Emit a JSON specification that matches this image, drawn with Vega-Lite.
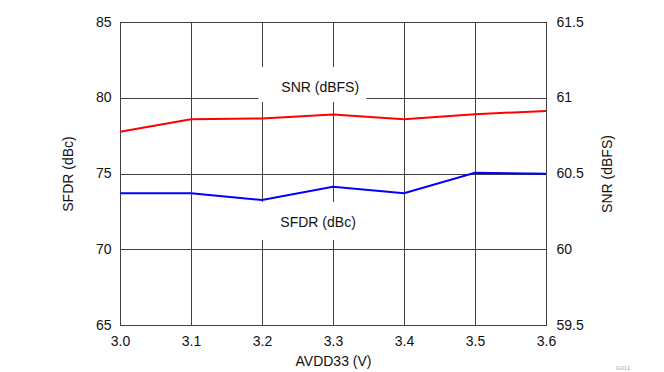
{
  "$schema": "https://vega.github.io/schema/vega-lite/v6.json",
  "width": 426,
  "height": 303,
  "autosize": {"type": "none"},
  "padding": {"left": 120, "top": 22, "right": 118, "bottom": 47},
  "background": "white",
  "title": {"text": "G011", "orient": "bottom", "anchor": "end", "frame": "group", "fontSize": 6, "fontWeight": "normal", "color": "#aaaaaa", "font": "Liberation Sans", "dx": 84, "offset": -3},
  "config": {
    "font": "Liberation Sans",
    "view": {"stroke": "black", "strokeWidth": 1},
    "axis": {
      "labelFont": "Liberation Sans",
      "titleFont": "Liberation Sans",
      "labelFontSize": 14,
      "titleFontSize": 14,
      "titleFontWeight": "normal",
      "labelColor": "#111111",
      "titleColor": "#111111",
      "labelFlush": false,
      "labelOverlap": false,
      "domain": false,
      "ticks": false,
      "gridColor": "#404040",
      "gridOpacity": 1,
      "gridWidth": 1
    }
  },
  "data": {
    "values": [
      {"v": 3.0, "sfdr": 73.70, "snr": 60.776},
      {"v": 3.1, "sfdr": 73.70, "snr": 60.858},
      {"v": 3.2, "sfdr": 73.25, "snr": 60.863},
      {"v": 3.3, "sfdr": 74.13, "snr": 60.889},
      {"v": 3.4, "sfdr": 73.70, "snr": 60.858},
      {"v": 3.5, "sfdr": 75.05, "snr": 60.891},
      {"v": 3.6, "sfdr": 74.98, "snr": 60.913}
    ]
  },
  "layer": [
    {
      "mark": {"type": "line", "color": "#0000ff", "strokeWidth": 2},
      "encoding": {
        "x": {"field": "v", "type": "quantitative", "scale": {"domain": [3.0, 3.6], "nice": false, "zero": false},
          "axis": {"title": "AVDD33 (V)", "values": [3.0, 3.1, 3.2, 3.3, 3.4, 3.5, 3.6], "format": ".1f", "grid": true, "labelPadding": 9, "titlePadding": 6}},
        "y": {"field": "sfdr", "type": "quantitative", "scale": {"domain": [65, 85], "nice": false, "zero": false},
          "axis": {"title": "SFDR (dBc)", "orient": "left", "values": [65, 70, 75, 80, 85], "format": "d", "grid": true, "labelPadding": 9, "titlePadding": 20}}
      }
    },
    {
      "mark": {"type": "line", "color": "#ff0000", "strokeWidth": 2},
      "encoding": {
        "x": {"field": "v", "type": "quantitative", "title": "AVDD33 (V)"},
        "y": {"field": "snr", "type": "quantitative", "scale": {"domain": [59.5, 61.5], "nice": false, "zero": false},
          "axis": {"title": "SNR (dBFS)", "orient": "right", "values": [59.5, 60, 60.5, 61, 61.5], "format": "~g", "grid": false, "labelPadding": 10, "titlePadding": 31, "titleAngle": 270}}
      }
    },
    {
      "data": {"values": [
        {"v": 3.195, "v2": 3.347, "y1": 79.72, "y2": 82.03},
        {"v": 3.195, "v2": 3.347, "y1": 70.61, "y2": 73.12}
      ]},
      "mark": {"type": "rect", "fill": "white", "stroke": null},
      "encoding": {
        "x": {"field": "v", "type": "quantitative", "title": "AVDD33 (V)"},
        "x2": {"field": "v2"},
        "y": {"field": "y1", "type": "quantitative", "scale": {"domain": [65, 85], "nice": false, "zero": false}, "axis": null},
        "y2": {"field": "y2"}
      }
    },
    {
      "data": {"values": [
        {"v": 3.282, "y": 80.62, "label": "SNR (dBFS)"},
        {"v": 3.279, "y": 71.73, "label": "SFDR (dBc)"}
      ]},
      "mark": {"type": "text", "fontSize": 14, "font": "Liberation Sans", "color": "#111111", "align": "center", "baseline": "middle"},
      "encoding": {
        "x": {"field": "v", "type": "quantitative", "title": "AVDD33 (V)"},
        "y": {"field": "y", "type": "quantitative", "scale": {"domain": [65, 85], "nice": false, "zero": false}, "axis": null},
        "text": {"field": "label"}
      }
    }
  ],
  "resolve": {"scale": {"y": "independent"}}
}
